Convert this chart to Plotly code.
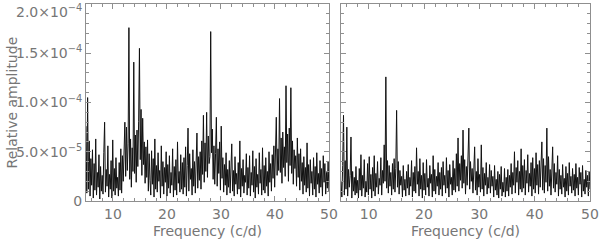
import numpy as np
import plotly.graph_objects as go

# Frequency grid (c/d) and amplitudes (units of 1e-5)
freq_step = 0.15
freq_start = 5.0

amp_left = [
    7.6, 0.8, 10.5, 1.2, 6.1, 0.5, 4.3, 1.6, 5.2, 0.3, 3.8, 1.1, 6.3, 0.6, 2.9, 1.4, 4.7, 0.2, 3.5, 1.0,
    2.6, 0.7, 4.9, 8.0, 0.9, 3.2, 1.5, 5.6, 0.4, 2.7, 1.2, 4.1, 0.3, 6.2, 1.0, 3.3, 0.6, 4.4, 1.3, 2.4,
    0.5, 3.9, 1.1, 5.3, 0.8, 4.6, 2.0, 6.4, 8.0, 2.5, 7.5, 3.1, 5.8, 17.6, 2.2, 6.3, 1.4, 5.4, 3.0, 14.1,
    2.8, 6.7, 1.9, 7.2, 3.5, 8.1, 15.5, 4.2, 9.3, 2.6, 8.4, 3.7, 6.0, 1.8, 5.5, 2.4, 6.2, 1.0, 4.8, 2.1,
    0.6, 5.1, 1.7, 4.3, 0.4, 6.3, 1.2, 3.6, 0.9, 4.9, 2.0, 3.1, 0.3, 5.6, 1.5, 4.0, 0.7, 3.4, 1.9, 5.0,
    0.5, 3.7, 1.3, 4.6, 0.8, 2.9, 1.6, 5.3, 0.4, 3.5, 1.1, 4.2, 0.6, 6.0, 1.8, 3.0, 0.9, 4.7, 1.2, 3.9,
    0.7, 4.4, 1.4, 5.5, 0.5, 3.6, 7.4, 1.0, 4.8, 2.2, 3.3, 0.6, 5.2, 1.5, 4.0, 0.8, 3.8, 6.9, 1.3, 4.5,
    2.1, 5.0, 1.2, 6.1, 2.7, 8.7, 1.9, 5.9, 3.0, 9.0, 2.4, 6.6, 3.8, 4.5, 17.2, 4.9, 7.3, 2.2, 5.6, 1.7,
    4.8, 8.5, 1.5, 5.3, 2.8, 6.0, 1.1, 7.6, 2.3, 4.4, 0.9, 3.7, 1.6, 4.9, 0.6, 3.2, 1.4, 4.1, 0.8, 3.6,
    5.8, 1.0, 3.1, 0.5, 4.5, 1.7, 2.8, 0.7, 3.9, 1.2, 6.1, 0.4, 3.3, 1.5, 4.2, 0.8, 2.6, 1.9, 4.8, 0.6,
    3.4, 1.3, 4.6, 0.5, 2.9, 1.6, 5.1, 0.9, 3.5, 0.3, 4.3, 1.4, 2.7, 0.7, 4.9, 1.8, 3.2, 0.6, 5.4, 1.1,
    3.6, 0.8, 4.4, 1.5, 3.0, 0.5, 5.0, 1.9, 3.8, 1.0, 4.7, 2.3, 5.6, 1.4, 6.2, 8.5, 2.6, 5.3, 3.1, 10.4,
    2.9, 6.4, 1.8, 7.0, 3.4, 5.5, 2.5, 11.7, 3.9, 6.8, 2.0, 7.4, 3.6, 11.5, 2.8, 6.1, 1.7, 5.2, 3.3, 4.6,
    1.5, 6.4, 2.4, 4.8, 1.1, 5.3, 2.0, 3.9, 0.7, 4.5, 1.6, 3.4, 0.9, 5.9, 1.3, 3.7, 0.5, 4.2, 1.8, 3.0,
    0.6, 4.4, 1.2, 3.5, 0.4, 4.9, 1.7, 2.8, 0.8, 4.1, 1.4, 3.3, 0.5, 4.6, 1.9, 3.8, 0.7, 2.9, 1.3, 4.0,
    1.0,
]

amp_right = [
    2.0, 0.4, 3.6, 8.7, 0.6, 4.1, 1.2, 7.5, 0.5, 3.2, 1.4, 2.6, 6.5, 0.3, 3.0, 1.0, 2.4, 0.6, 3.5, 0.8,
    2.1, 0.3, 3.3, 1.1, 4.7, 0.5, 2.6, 1.3, 4.2, 0.4, 2.0, 0.9, 3.8, 0.6, 4.5, 1.2, 2.7, 0.3, 3.4, 1.0,
    4.6, 0.5, 2.8, 1.4, 4.0, 0.7, 2.3, 1.6, 4.4, 0.6, 3.1, 1.8, 5.7, 2.0, 12.6, 1.3, 4.1, 0.8, 3.6, 1.5,
    2.9, 0.6, 3.8, 1.2, 4.3, 0.9, 3.3, 9.2, 1.4, 4.0, 0.7, 3.1, 1.6, 2.5, 0.4, 3.6, 1.1, 2.2, 0.5, 3.0,
    1.3, 3.7, 0.6, 2.4, 1.5, 4.1, 0.4, 2.9, 1.0, 3.5, 0.8, 5.4, 1.7, 3.0, 0.5, 4.3, 1.2, 2.6, 0.3, 3.9,
    1.1, 2.8, 0.6, 4.2, 1.4, 2.3, 0.5, 3.6, 1.8, 2.7, 0.4, 4.6, 1.0, 3.2, 0.7, 2.5, 1.5, 3.9, 0.6, 2.9,
    1.2, 3.4, 0.5, 4.0, 1.6, 2.6, 0.8, 4.4, 1.3, 3.1, 0.4, 3.7, 1.7, 2.4, 0.6, 4.1, 1.1, 3.3, 0.9, 4.8,
    1.5, 6.4, 1.0, 3.8, 2.1, 4.6, 1.3, 7.2, 1.8, 4.2, 0.7, 3.5, 1.6, 4.9, 7.4, 1.2, 4.0, 2.0, 3.3, 0.8,
    3.6, 5.5, 1.1, 3.0, 0.6, 4.3, 1.4, 2.7, 0.9, 5.7, 1.2, 3.4, 0.5, 2.8, 1.6, 3.9, 0.7, 2.4, 1.3, 3.7,
    0.8, 3.1, 1.5, 2.5, 0.4, 3.6, 1.1, 2.2, 0.6, 3.0, 0.3, 2.7, 1.2, 3.5, 0.5, 1.9, 0.9, 3.3, 0.4, 2.4,
    1.0, 3.2, 0.5, 2.6, 1.4, 3.8, 0.7, 2.9, 1.6, 5.0, 0.8, 3.4, 1.9, 4.1, 0.6, 3.0, 1.2, 5.3, 0.9, 3.6,
    1.3, 4.2, 0.6, 3.1, 1.8, 4.7, 0.9, 2.8, 1.5, 3.9, 0.5, 4.4, 1.2, 3.3, 0.8, 4.9, 1.6, 3.7, 0.7, 4.1,
    1.4, 3.5, 6.0, 1.1, 4.3, 0.8, 3.6, 1.9, 7.4, 1.0, 4.5, 1.5, 3.2, 0.6, 4.0, 5.5, 1.3, 3.8, 0.9, 2.9,
    1.7, 4.6, 0.5, 3.2, 1.2, 2.6, 0.7, 3.7, 1.4, 2.3, 0.4, 3.5, 1.0, 2.8, 0.6, 3.9, 1.5, 2.5, 0.8, 3.3,
    1.1, 2.7, 0.5, 3.8, 1.3, 2.4, 0.6, 3.4, 1.7, 2.9, 0.4, 3.6, 1.0, 2.2, 0.7, 3.1, 1.4, 2.6, 0.5, 3.0,
    1.2,
]

x_tick_vals = [10, 20, 30, 40, 50]
y_tick_vals = [0, 5e-5, 1e-4, 1.5e-4, 2e-4]
y_tick_text = ["0", "5.0×10<sup>−5</sup>", "1.0×10<sup>−4</sup>",
               "1.5×10<sup>−4</sup>", ""]
y_top_label = "2.0×10<sup>−4</sup>"

freq_left = [freq_start + freq_step * i for i in range(len(amp_left))]
freq_right = [freq_start + freq_step * i for i in range(len(amp_right))]
scale = 1e-5

FRAME = "#8f8f8f"
TXT = "#767676"
FONT = "DejaVu Sans"

fig = go.Figure()
fig.add_trace(go.Scatter(x=freq_left, y=[a * scale for a in amp_left], mode="lines",
                         line=dict(color="#111111", width=1.0), xaxis="x", yaxis="y",
                         showlegend=False))
fig.add_trace(go.Scatter(x=freq_right, y=[a * scale for a in amp_right], mode="lines",
                         line=dict(color="#111111", width=1.0), xaxis="x2", yaxis="y2",
                         showlegend=False))

common_x = dict(range=[5, 50.0001], tickvals=x_tick_vals, ticks="inside", ticklen=5,
                tickcolor=FRAME, showline=True, linecolor=FRAME, linewidth=1,
                mirror="allticks", showgrid=False, zeroline=False, automargin=False,
                ticklabeloverflow="allow",
                tickfont=dict(family=FONT, size=14, color=TXT),
                minor=dict(ticks="inside", ticklen=3, dtick=2, tick0=0, tickcolor=FRAME))
common_y = dict(range=[0, 2.0001e-4], tickvals=y_tick_vals, ticks="inside", ticklen=5,
                tickcolor=FRAME, showline=True, linecolor=FRAME, linewidth=1,
                mirror="allticks", showgrid=False, zeroline=False, automargin=False,
                ticklabeloverflow="allow",
                tickfont=dict(family=FONT, size=14, color=TXT),
                minor=dict(ticks="inside", ticklen=3, dtick=1e-5, tick0=0, tickcolor=FRAME))

fig.update_layout(
    width=599, height=241,
    margin=dict(l=86, r=9, t=4, b=40, autoexpand=False),
    paper_bgcolor="white", plot_bgcolor="white",
    xaxis=dict(domain=[0, 0.482], anchor="y", **common_x),
    yaxis=dict(domain=[0, 1], anchor="x", ticktext=y_tick_text, **common_y),
    xaxis2=dict(domain=[0.506, 1], anchor="y2", **common_x),
    yaxis2=dict(domain=[0, 1], anchor="x2", showticklabels=False, **common_y),
    annotations=[
        dict(text=y_top_label, xref="paper", yref="paper", x=-0.004, y=1.018,
             xanchor="right", yanchor="top", showarrow=False,
             font=dict(family=FONT, size=14, color=TXT)),
        dict(text="Frequency (c/d)", xref="paper", yref="paper", x=0.241, y=-0.152,
             xanchor="center", yanchor="middle", showarrow=False,
             font=dict(family=FONT, size=14, color=TXT)),
        dict(text="Frequency (c/d)", xref="paper", yref="paper", x=0.753, y=-0.152,
             xanchor="center", yanchor="middle", showarrow=False,
             font=dict(family=FONT, size=14, color=TXT)),
        dict(text="Relative amplitude", xref="paper", yref="paper", x=-0.147, y=0.5,
             xanchor="center", yanchor="middle", textangle=-90, showarrow=False,
             font=dict(family=FONT, size=14, color=TXT)),
    ],
)

fig.write_html("out.html", config={"displayModeBar": False},
               post_script="document.body.style.margin='0';document.body.style.padding='0';"
                           "document.documentElement.style.overflow='hidden';")
